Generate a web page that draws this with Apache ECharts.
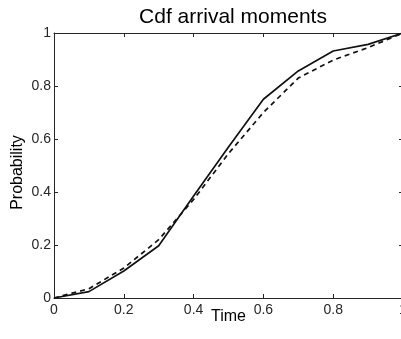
<!DOCTYPE html>
<html>
<head>
<meta charset="utf-8">
<script src="https://cdn.jsdelivr.net/npm/echarts@6/dist/echarts.min.js"></script>
<style>html,body{margin:0;padding:0;background:#fff;}#c{width:401px;height:339px;}</style>
</head>
<body>
<div id="c"></div>
<script>
var times = [0, 0.1, 0.2, 0.3, 0.4, 0.5, 0.6, 0.7, 0.8, 0.9, 1];
var solidCdf = [0, 0.024, 0.102, 0.197, 0.385, 0.57, 0.75, 0.857, 0.932, 0.957, 1];
var dashedCdf = [0, 0.035, 0.113, 0.22, 0.372, 0.545, 0.70, 0.83, 0.898, 0.945, 1];
var tickLabelsX = ['0', '0.2', '0.4', '0.6', '0.8', '1'];
var tickLabelsY = ['0', '0.2', '0.4', '0.6', '0.8', '1'];

function pairs(xs, ys){ return xs.map(function(x,i){ return [x, ys[i]]; }); }
var font = 'Liberation Sans, Arial, Helvetica, sans-serif';
var axCol = '#262626';
var chart = echarts.init(document.getElementById('c'), null, {renderer:'canvas'});
function labelFmt(arr){ return function(v){ var i = Math.round(v/0.2); return arr[i] !== undefined ? arr[i] : ''; }; }
chart.setOption({
  animation:false,
  backgroundColor:'#fff',
  title:{text:'Cdf arrival moments', left:228, textAlign:'center', top:2,
    textStyle:{fontFamily:font, fontSize:21, fontWeight:'normal', color:'#000'}},
  grid:{left:54, right:-2, top:33, bottom:41, containLabel:false, outerBoundsMode:'none'},
  xAxis:[{
    type:'value', min:0, max:1, interval:0.2, position:'bottom',
    name:'Time', nameLocation:'middle', nameGap:11, nameMoveOverlap:false,
    nameTextStyle:{fontFamily:font, fontSize:16, color:'#000'},
    axisLine:{show:true, onZero:false, lineStyle:{color:axCol, width:1}},
    axisTick:{show:true, inside:true, length:4, lineStyle:{color:axCol}},
    axisLabel:{fontFamily:font, fontSize:14, color:axCol, margin:5, formatter:labelFmt(tickLabelsX)},
    splitLine:{show:false}
  },{
    type:'value', min:0, max:1, interval:0.2, position:'top',
    axisLine:{show:true, onZero:false, lineStyle:{color:axCol, width:1}},
    axisTick:{show:true, inside:true, length:4, lineStyle:{color:axCol}},
    axisLabel:{show:false}, splitLine:{show:false}
  }],
  yAxis:[{
    type:'value', min:0, max:1, interval:0.2, position:'left',
    name:'Probability', nameLocation:'middle', nameGap:28, nameRotate:90, nameMoveOverlap:false,
    nameTextStyle:{fontFamily:font, fontSize:16, color:'#000', padding:[0,14,0,0]},
    axisLine:{show:true, onZero:false, lineStyle:{color:axCol, width:1}},
    axisTick:{show:true, inside:true, length:4, lineStyle:{color:axCol}},
    axisLabel:{fontFamily:font, fontSize:14, color:axCol, margin:3, formatter:labelFmt(tickLabelsY)},
    splitLine:{show:false}
  },{
    type:'value', min:0, max:1, interval:0.2, position:'right',
    axisLine:{show:true, onZero:false, lineStyle:{color:axCol, width:1}},
    axisTick:{show:true, inside:true, length:4, lineStyle:{color:axCol}},
    axisLabel:{show:false}, splitLine:{show:false}
  }],
  series:[{
    type:'line', data:pairs(times, solidCdf), showSymbol:false, symbol:'none',
    lineStyle:{color:'#111', width:1.7, type:'solid'}, z:3
  },{
    type:'line', data:pairs(times, dashedCdf), showSymbol:false, symbol:'none',
    lineStyle:{color:'#111', width:1.7, type:[5,4]}, z:2
  }]
});
</script>
</body>
</html>
